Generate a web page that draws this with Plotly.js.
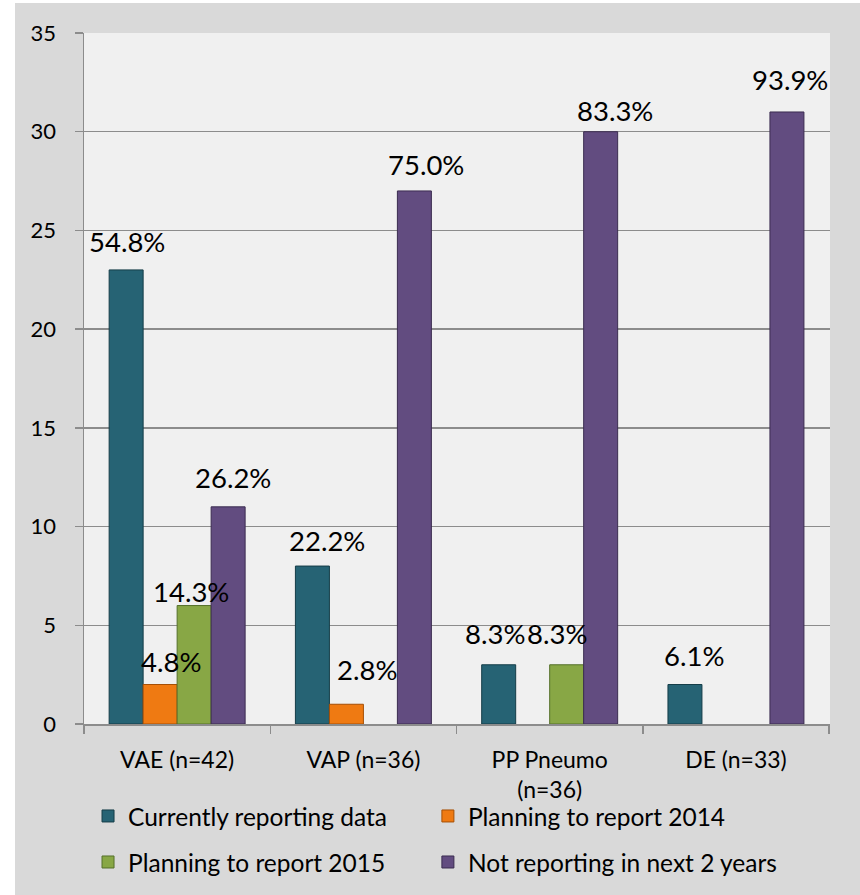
<!DOCTYPE html>
<html>
<head>
<meta charset="utf-8">
<script src="https://cdn.plot.ly/plotly-3.0.1.min.js"></script>
<style>
  html, body { margin: 0; padding: 0; background: #ffffff; }
  #chart { position: absolute; left: 15px; top: 3px; width: 845px; height: 892px; }
</style>
</head>
<body>
<div id="chart"></div>
<script>
// ---- data ----
const categories = ["VAE (n=42)", "VAP (n=36)", "PP Pneumo<br>(n=36)", "DE (n=33)"];
const seriesNames = ["Currently reporting data", "Planning to report 2014", "Planning to report 2015", "Not reporting in next 2 years"];
const currentlyReporting = [23, 8, 3, 2];
const planning2014 = [2, 1, 0, 0];
const planning2015 = [6, 0, 3, 0];
const notReporting = [11, 27, 30, 31];
const pctCurrently = ["54.8%", "22.2%", "8.3%", "6.1%"];
const pct2014 = ["4.8%", "2.8%", "", ""];
const pct2015 = ["14.3%", "", "8.3%", ""];
const pctNot = ["26.2%", "75.0%", "83.3%", "93.9%"];

// ---- styles ----
const colors = ["#266374", "#ef7a12", "#88a745", "#624c80"];
const edgeColors = ["#153d48", "#a64f05", "#55702a", "#3b2c50"];
// per-label nudges (px) to mimic the hand-placed labels of the original
const labelDx = [[1, 15, -4, 9], [11, 21, 0, 0], [-3, 0, -10, 0], [5, 12, 14, 3]];
const labelGap = [[17, 14, 20, 18], [12, 23, 0, 0], [3, 0, 20, 0], [18, 15, 10, 21]];

const values = [currentlyReporting, planning2014, planning2015, notReporting];
const labels = [pctCurrently, pct2014, pct2015, pctNot];
const legendIds = ["legend", "legend2", "legend3", "legend4"];
const legendX = [0.0054, 0.461, 0.0054, 0.461];
const legendY = [-0.1332, -0.1332, -0.1998, -0.1998];

const font = "Lato, 'Open Sans', sans-serif";
const plotW = 746;
const bargap = 0.27;
const barPx = plotW / categories.length * (1 - bargap) / values.length;

const traces = values.map((v, i) => ({
  type: "bar",
  name: seriesNames[i],
  x: categories,
  y: v,
  legend: legendIds[i],
  marker: {
    color: colors[i],
    line: { color: edgeColors[i], width: v.map(val => (val > 0 ? 1 : 0)) }
  },
  hoverinfo: "skip"
}));

const annotations = [];
values.forEach((v, s) => {
  v.forEach((val, c) => {
    if (val > 0 && labels[s][c]) {
      annotations.push({
        x: categories[c], y: val, xref: "x", yref: "y",
        text: labels[s][c], showarrow: false,
        yanchor: "bottom", xanchor: "center",
        xshift: (s - 1.5) * barPx + labelDx[s][c],
        yshift: labelGap[s][c] - 7,
        font: { family: font, size: 27.5, color: "#000000" }
      });
    }
  });
});

const legendFont = { family: font, size: 24.5, color: "#000000" };

const layout = {
  width: 845, height: 892,
  margin: { l: 69, r: 30, t: 30, b: 171, autoexpand: false },
  paper_bgcolor: "#d9d9d9",
  plot_bgcolor: "#f0f0f0",
  barmode: "group",
  bargap: bargap,
  bargroupgap: 0,
  showlegend: true,
  font: { family: font, color: "#000000" },
  xaxis: {
    type: "category", automargin: false,
    showline: true, linecolor: "#8c8c8c", linewidth: 1.5,
    ticks: "outside", tickson: "boundaries", ticklen: 8, tickcolor: "#8c8c8c", tickwidth: 1.5,
    ticklabelstandoff: 15,
    tickfont: { family: font, size: 23, color: "#000000" },
    showgrid: false
  },
  yaxis: {
    range: [0, 35], dtick: 5, tick0: 0, automargin: false,
    showline: true, linecolor: "#8c8c8c", linewidth: 1.5,
    ticks: "outside", ticklen: 8, tickcolor: "#8c8c8c", tickwidth: 1.5,
    ticklabelstandoff: 14,
    showgrid: true, gridcolor: "#8c8c8c", gridwidth: 1.5,
    zeroline: false,
    tickfont: { family: font, size: 22, color: "#000000" }
  },
  annotations: annotations
};

legendIds.forEach((id, i) => {
  layout[id] = {
    orientation: "h", x: legendX[i], xanchor: "left", y: legendY[i], yanchor: "middle",
    bgcolor: "rgba(0,0,0,0)", font: legendFont
  };
});

Plotly.newPlot("chart", traces, layout, { displayModeBar: false, staticPlot: true });
</script>
</body>
</html>
